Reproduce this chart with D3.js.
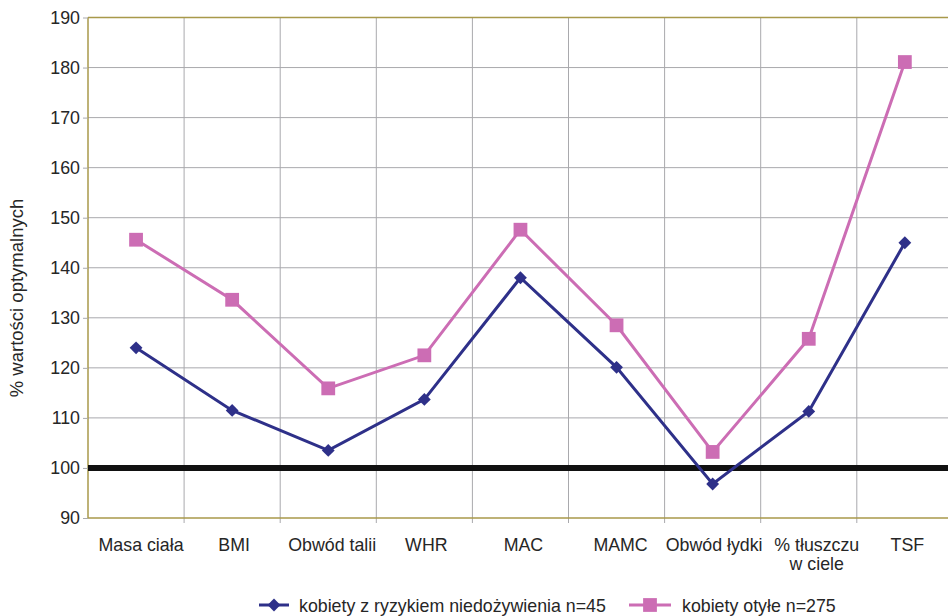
<!DOCTYPE html>
<html>
<head>
<meta charset="utf-8">
<script src="https://cdn.jsdelivr.net/npm/d3@7/dist/d3.min.js"></script>
<style>
  html, body { margin: 0; padding: 0; background: #fff; }
  svg { display: block; font-family: "Liberation Sans", Arial, sans-serif; }
</style>
</head>
<body>
<svg id="chart" width="948" height="616"></svg>
<script>
// Categories (measurements) and values as % of optimal values
const categories = ["Masa ciała", "BMI", "Obwód talii", "WHR", "MAC", "MAMC", "Obwód łydki", "% tłuszczu\nw ciele", "TSF"];
const undernourished = [124.0, 111.5, 103.5, 113.7, 138.0, 120.1, 96.8, 111.3, 145.0];
const obese = [145.6, 133.6, 115.9, 122.5, 147.6, 128.5, 103.2, 125.8, 181.1];
const yTicks = [90, 100, 110, 120, 130, 140, 150, 160, 170, 180, 190];
const seriesNames = ["kobiety z ryzykiem niedożywienia n=45", "kobiety otyłe n=275"];
const referenceValue = 100;

const svg = d3.select("#chart");
const margin = { left: 88, top: 17.5, bottom: 98 };
const plotW = 96.1 * categories.length;
const plotH = 616 - margin.top - margin.bottom;
const fontSize = 17.8;

const x = d3.scaleBand().domain(categories).range([margin.left, margin.left + plotW]);
const y = d3.scaleLinear().domain([90, 190]).range([margin.top + plotH, margin.top]);

const navy = "#2e3089";
const pink = "#cc6db4";
const frame = "#a8994a";
const grid = "#a9a9ad";
const textColor = "#262626";

// Horizontal gridlines
svg.append("g").selectAll("line").data(yTicks.slice(1)).join("line")
  .attr("x1", margin.left).attr("x2", margin.left + plotW)
  .attr("y1", d => y(d)).attr("y2", d => y(d))
  .attr("stroke", grid).attr("stroke-width", 1);

// Vertical gridlines at category boundaries
svg.append("g").selectAll("line").data(categories.slice(1)).join("line")
  .attr("x1", d => x(d)).attr("x2", d => x(d))
  .attr("y1", margin.top).attr("y2", margin.top + plotH + 5)
  .attr("stroke", grid).attr("stroke-width", 1);

// Frame: top, left and bottom in olive
svg.append("line").attr("x1", margin.left).attr("x2", margin.left + plotW)
  .attr("y1", y(190)).attr("y2", y(190)).attr("stroke", frame).attr("stroke-width", 1.5);
svg.append("line").attr("x1", margin.left).attr("x2", margin.left + plotW)
  .attr("y1", y(90)).attr("y2", y(90)).attr("stroke", frame).attr("stroke-width", 1.5);
svg.append("line").attr("x1", margin.left).attr("x2", margin.left)
  .attr("y1", y(190)).attr("y2", y(90)).attr("stroke", frame).attr("stroke-width", 1.5);

// Y axis ticks and labels
const yAxis = d3.axisLeft(y).tickValues(yTicks).tickSize(5).tickPadding(3);
const gy = svg.append("g").attr("transform", `translate(${margin.left},0)`).call(yAxis);
gy.select(".domain").remove();
gy.selectAll(".tick line").attr("stroke", grid);
gy.selectAll(".tick text").attr("font-size", fontSize).attr("fill", textColor)
  .attr("font-family", "Liberation Sans, Arial, sans-serif");

// Y axis title
svg.append("text")
  .attr("transform", `translate(23,298) rotate(-90)`)
  .attr("text-anchor", "middle")
  .attr("font-size", 18.5).attr("fill", textColor)
  .text("% wartości optymalnych");

// Category labels (multi-line where needed); small horizontal nudges per label
const labelNudge = [5, 2, 4, 2, 3, 4, 1.5, 8, 2.5];
const labelX = (d, i) => x(d) + x.bandwidth() / 2 + labelNudge[i];
const xl = svg.append("g").selectAll("text").data(categories).join("text")
  .attr("x", labelX)
  .attr("y", y(90) + 32.5)
  .attr("text-anchor", "middle")
  .attr("font-size", fontSize).attr("fill", textColor);
xl.each(function(d, i) {
  const lines = d.split("\n");
  d3.select(this).selectAll("tspan").data(lines).join("tspan")
    .attr("x", labelX(d, i))
    .attr("dy", (l, j) => j === 0 ? 0 : 19.5)
    .text(l => l);
});

// Reference line at 100%
svg.append("line")
  .attr("x1", margin.left).attr("x2", margin.left + plotW)
  .attr("y1", y(referenceValue)).attr("y2", y(referenceValue))
  .attr("stroke", "#111").attr("stroke-width", 6);

const cx = d => x(d) + x.bandwidth() / 2;
const line = d3.line().x(d => cx(d[0])).y(d => y(d[1]));

const diamond = d3.symbol().type(d3.symbolDiamond2).size(105);
const square = d3.symbol().type(d3.symbolSquare).size(190);

function drawSeries(values, color, sym) {
  const pts = categories.map((c, i) => [c, values[i]]);
  svg.append("path").datum(pts).attr("d", line)
    .attr("fill", "none").attr("stroke", color).attr("stroke-width", 3)
    .attr("stroke-linejoin", "miter");
  svg.append("g").selectAll("path").data(pts).join("path")
    .attr("d", sym)
    .attr("transform", d => `translate(${cx(d[0])},${y(d[1])})`)
    .attr("fill", color);
}
drawSeries(obese, pink, square);
drawSeries(undernourished, navy, diamond);

// Legend
const legend = [
  { name: seriesNames[0], color: navy, sym: diamond, x0: 259, len: 30, gap: 10 },
  { name: seriesNames[1], color: pink, sym: square, x0: 629, len: 42, gap: 11 }
];
const ly = 605;
legend.forEach(l => {
  const g = svg.append("g");
  g.append("line").attr("x1", l.x0).attr("x2", l.x0 + l.len).attr("y1", ly).attr("y2", ly)
    .attr("stroke", l.color).attr("stroke-width", 3);
  g.append("path").attr("d", l.sym).attr("transform", `translate(${l.x0 + l.len / 2},${ly})`).attr("fill", l.color);
  g.append("text").attr("x", l.x0 + l.len + l.gap).attr("y", ly + 6.5)
    .attr("font-size", fontSize).attr("fill", textColor).text(l.name);
});
</script>
</body>
</html>
